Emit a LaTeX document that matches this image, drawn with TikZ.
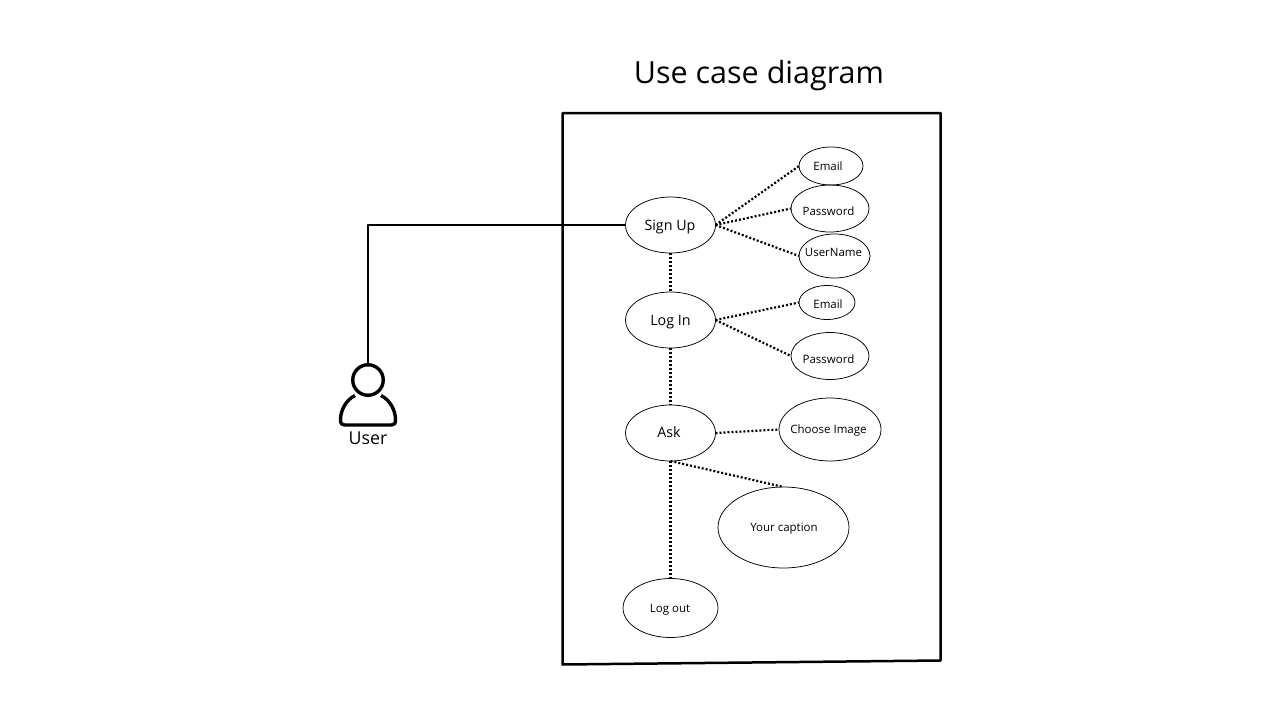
\documentclass[tikz,border=0pt]{standalone}
\usepackage{fontspec}
\setmainfont{Open Sans}
\usetikzlibrary{shapes.geometric}
\tikzset{
  x=1pt,y=-1pt,
  oval/.style={draw=black,ellipse,line width=0.75pt,inner sep=0pt,outer sep=0pt},
  txt/.style={inner sep=0pt,text=black,anchor=base},
  big/.style={txt,font=\fontsize{14.3}{18}\selectfont},
  small/.style={txt,font=\fontsize{11.5}{14}\selectfont},
  dots/.style={line width=2.2pt,dash pattern=on 2pt off 2pt,draw=black},
  solid line/.style={line width=2.5pt,draw=black},
}
\begin{document}
\begin{tikzpicture}
\useasboundingbox (0,0) rectangle (1280,720);
\node[txt,font=\fontsize{30.5}{36}\selectfont] (title) at (759,83.8) {Use case diagram};
\draw[solid line,line join=round] (562.5,113) -- (940.5,113) -- (940.5,660.5) -- (562.5,664.5) -- cycle;

\node[oval,minimum width=90pt,minimum height=56pt] (signup) at (670.5,225) {};
\node[oval,minimum width=90pt,minimum height=56pt] (login) at (670.5,320) {};
\node[oval,minimum width=90pt,minimum height=56pt] (ask) at (670.5,433) {};
\node[oval,minimum width=95pt,minimum height=59pt] (logout) at (670.5,608) {};
\node[oval,minimum width=64pt,minimum height=38pt] (email1) at (831,166) {};
\node[oval,minimum width=78pt,minimum height=47pt] (pass1) at (830,208.5) {};
\node[oval,minimum width=71pt,minimum height=44pt] (user1) at (834.5,256) {};
\node[oval,minimum width=56pt,minimum height=34pt] (email2) at (827,302.5) {};
\node[oval,minimum width=78pt,minimum height=47pt] (pass2) at (830,356) {};
\node[oval,minimum width=102pt,minimum height=63pt] (image) at (830,429.5) {};
\node[oval,minimum width=131pt,minimum height=81pt] (caption) at (783.5,527.5) {};

\node[big] (tsignup) at (670,230) {Sign Up};
\node[big] (tlogin) at (670.5,325) {Log In};
\node[big] (task) at (669,437.5) {Ask};
\node[small] (tlogout) at (670,612.5) {Log out};
\node[small] (temail1) at (828,170.3) {Email};
\node[small] (tpass1) at (828.5,215.8) {Password};
\node[small] (tuser1) at (833.5,256.3) {UserName};
\node[small] (temail2) at (828,308.3) {Email};
\node[small] (tpass2) at (828.5,363.8) {Password};
\node[small] (timage) at (828.5,433.2) {Choose Image};
\node[small] (tcaption) at (784,531.7) {Your caption};

\draw[dots] (signup.east) -- (email1.west);
\draw[dots] (signup.east) -- (pass1.west);
\draw[dots] (signup.east) -- (user1.west);
\draw[dots] (login.east) -- (email2.west);
\draw[dots] (login.east) -- (pass2.west);
\draw[dots] (ask.east) -- (image.west);
\draw[dots] (ask.south) -- (caption.north);
\draw[dots] (signup.south) -- (login.north);
\draw[dots] (login.south) -- (ask.north);
\draw[dots] (ask.south) -- (logout.north);

\node[circle,draw=black,line width=3.4pt,minimum size=30.5pt,inner sep=0pt,outer sep=0pt] (head) at (368,380) {};
\draw[line width=3.4pt,draw=black,line join=round]
  (355,395.5) .. controls (346,400) and (340.5,410) .. (340.5,420)
  .. controls (340.5,423.5) and (342,425) .. (344.5,425) -- (391.5,425)
  .. controls (394,425) and (395.5,423.5) .. (395.5,420)
  .. controls (395.5,410) and (390,400) .. (381,395.5);
\node[txt,font=\fontsize{17.8}{20}\selectfont] (tuser) at (368,444) {User};
\draw[solid line,line join=round] (head.north) |- (signup.west);
\end{tikzpicture}
\end{document}
